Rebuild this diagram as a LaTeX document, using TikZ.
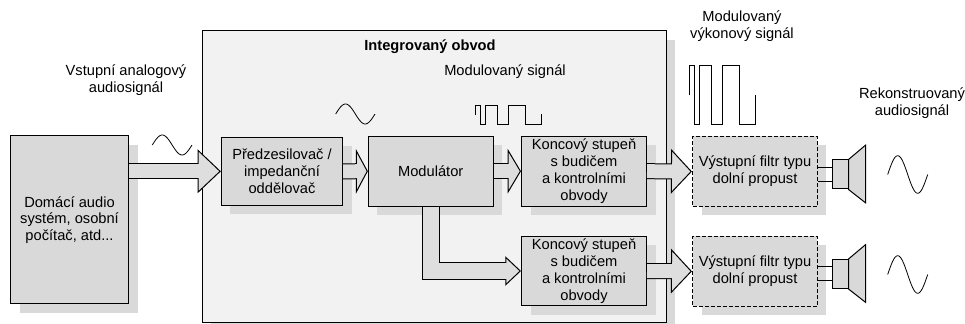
\documentclass[tikz,border=0pt]{standalone}
\usepackage{fontspec}
\setmainfont{Liberation Sans}
\usetikzlibrary{arrows.meta,shadows}
\definecolor{boxgray}{HTML}{D9D9D9}
\definecolor{chipgray}{HTML}{F2F2F2}
\definecolor{arrowgray}{HTML}{DEDEDE}
\tikzset{
  lowshadow/.style={drop shadow={shadow xshift=6.75pt,shadow yshift=-6.75pt,fill=boxgray,opacity=1}},
  stagebox/.style={draw,line width=.75pt,fill=boxgray,lowshadow,inner sep=0pt,align=center,minimum width=#1},
  stagebox/.default=93.5pt,
  filterbox/.style={stagebox,dash pattern=on 3pt off 1.5pt,line width=1.1pt,minimum height=52.5pt},
  blockarrow/.style n args={3}{draw=black,line width=#3+.75pt,line join=miter,
    -{Triangle[length=#1,width=#2,color=black,fill=arrowgray,line width=.75pt]},
    postaction={draw=arrowgray,line width=#3-.75pt,-,shorten >=#1-1.2pt}},
  signal/.style={line width=.7pt,line join=miter},
}
\begin{document}
\begin{tikzpicture}[x=.75pt,y=-.75pt,font=\fontsize{11}{12.6}\selectfont]
  \clip (0,0) rectangle (965,324);
  % integrated circuit frame
  \node[stagebox=348pt,fill=chipgray,minimum height=219pt] (chip) at (434,177) {};
  \node[font=\fontsize{11}{12.6}\selectfont\bfseries] (chiplabel) at (430,47) {Integrovaný obvod};
  % stages
  \node[stagebox=88.5pt,minimum height=126pt] (source) at (69.5,220) {Domácí audio\\systém, osobní\\počítač, atd...};
  \node[stagebox=91pt,minimum height=51pt] (preamp) at (282,171.3) {Předzesilovač /\\impedanční\\oddělovač};
  \node[stagebox,minimum height=52.3pt] (modulator) at (430.7,171.2) {Modulátor};
  \foreach \n/\y in {finalA/171.2,finalB/271}
    \node[stagebox=93.75pt,minimum height=52.3pt] (\n) at (584,\y) {Koncový stupeň\\s budičem\\a kontrolními\\obvody};
  \foreach \n/\y in {filterA/171.5,filterB/271.3}
    \node[filterbox] (\n) at (755,\y) {Výstupní filtr typu\\dolní propust};
  % loudspeakers
  \foreach \n/\f/\y in {spkA/filterA/174.5,spkB/filterB/274}{
    \node[draw,line width=.75pt,fill=boxgray,inner sep=0pt,minimum width=12pt,minimum height=21.75pt] (\n) at (840,\y) {};
    \draw[line width=.75pt,fill=boxgray] (\n.north east) -- ++(17,-14.3) -- ++(0,57.6) -- (\n.south east) -- cycle;
    \draw[line width=.75pt] ([yshift=5.25pt]\n.west) -- ([yshift=5.25pt]\n.west -| \f.east);
    \draw[line width=.75pt] ([yshift=-5.25pt]\n.west) -- ([yshift=-5.25pt]\n.west -| \f.east);
  }
  % block arrows
  \draw[blockarrow={17.5pt}{33pt}{11.25pt}] (source.east |- preamp.west) -- (preamp.west);
  \draw[blockarrow={9pt}{33.5pt}{11.25pt}] (preamp.east) -- (modulator.west);
  \draw[blockarrow={10pt}{33.5pt}{11.25pt}] (modulator.east) -- (finalA.west);
  \draw[blockarrow={15.75pt}{33.5pt}{11.25pt}] (finalA.east) -- (filterA.west);
  \draw[blockarrow={15.75pt}{33.5pt}{11.25pt}] (finalB.east) -- (filterB.west);
  \draw[blockarrow={11.75pt}{22pt}{12.75pt}] (modulator.south) |- (finalB.west);
  % sine waves
  \foreach \x/\y/\w/\a in {152.3/145/39.7/10,335.7/114/39.3/10,887.7/174.5/40/18.8,887.7/274.5/40/18.8}
    \draw[signal,line width=.6pt] plot[variable=\t,domain=0:1,samples=41,smooth] ({\x+\w*\t},{\y-\a*sin(360*\t)});
  % pulse trains
  \draw[signal] (475.7,115) |- (480.7,105) |- (485.7,124.3) |- (497.3,105) |- (508.7,124.3) |- (525,105) |- (541.7,124.3) -- (541.7,114.3);
  \draw[signal] (689.3,95) |- (694.3,65.3) |- (699.7,124.3) |- (711,65.3) |- (722.7,124.3) |- (739,65.3) |- (755.3,124.3) -- (755.3,95);
  % signal labels
  \node[align=center] (inlabel) at (126,80) {Vstupní analogový\\audiosignál};
  \node (modlabel) at (505,72) {Modulovaný signál};
  \node[align=center] (powerlabel) at (742,26.5) {Modulovaný\\výkonový signál};
  \node[align=center] (outlabel) at (912,103.5) {Rekonstruovaný\\audiosignál};
\end{tikzpicture}
\end{document}
